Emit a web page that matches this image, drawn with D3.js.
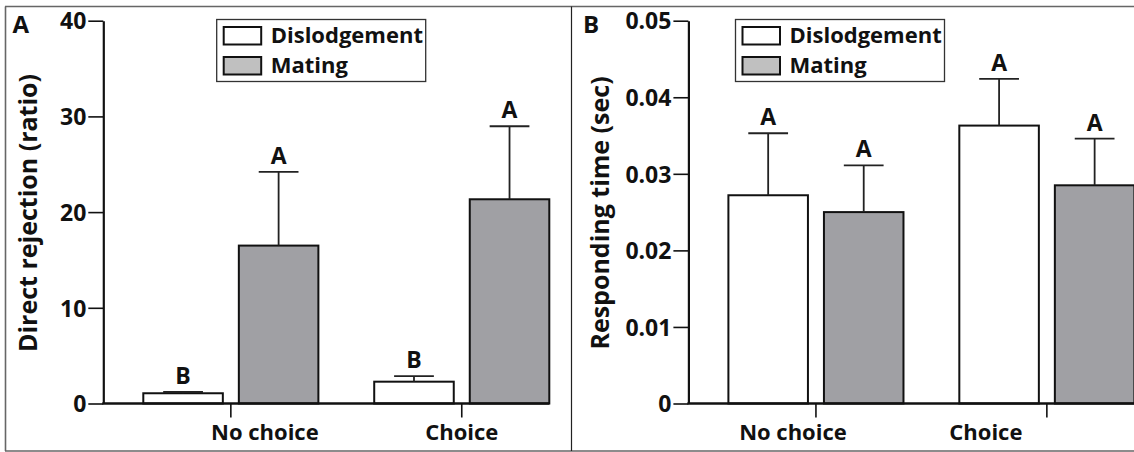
<!DOCTYPE html>
<html>
<head>
<meta charset="utf-8">
<script src="https://cdn.jsdelivr.net/npm/d3@7"></script>
<style>
  html, body { margin: 0; padding: 0; background: #fff; }
  svg { display: block; }
  text { font-family: "Open Sans", "Noto Sans", sans-serif; font-weight: 700; fill: #111; }
</style>
</head>
<body>
<svg id="chart" width="1134" height="452"></svg>
<script>
// Groups and treatments
const categories = ["No choice", "Choice"];
const series = ["Dislodgement", "Mating"];

// Panel A: direct rejection (ratio), mean and upper error per group
const rejDislodgement = [1.07, 2.28];
const rejDislodgementErr = [0.13, 0.59];
const rejMating = [16.5, 21.34];
const rejMatingErr = [7.7, 7.63];
const rejLetters = [["B", "A"], ["B", "A"]];
const rejTicks = [0, 10, 20, 30, 40];
const rejTickLabels = ["0", "10", "20", "30", "40"];

// Panel B: responding time (sec)
const timeDislodgement = [0.0272, 0.0363];
const timeDislodgementErr = [0.0081, 0.0061];
const timeMating = [0.0250, 0.0285];
const timeMatingErr = [0.0061, 0.0061];
const timeLetters = [["A", "A"], ["A", "A"]];
const timeTicks = [0, 0.01, 0.02, 0.03, 0.04, 0.05];
const timeTickLabels = ["0", "0.01", "0.02", "0.03", "0.04", "0.05"];

const fills = { Dislodgement: "#ffffff", Mating: "#a0a0a4" };
const legendFills = { Dislodgement: "#ffffff", Mating: "#c0c0c0" };

const svg = d3.select("#chart");

// Outer frame and panel divider
const frame = svg.append("g").attr("stroke", "#666").attr("stroke-width", 1.6);
frame.append("line").attr("x1", 5).attr("x2", 1134).attr("y1", 6.5).attr("y2", 6.5);
frame.append("line").attr("x1", 5.5).attr("x2", 5.5).attr("y1", 6.5).attr("y2", 451);
frame.append("line").attr("x1", 5).attr("x2", 1134).attr("y1", 451).attr("y2", 451);
svg.append("line").attr("x1", 571.5).attr("x2", 571.5).attr("y1", 6.5).attr("y2", 451)
  .attr("stroke", "#222").attr("stroke-width", 1.2);

function drawPanel(opt) {
  const g = svg.append("g");
  const y = d3.scaleLinear().domain(opt.domain).range([403.5, 20.7]);
  const x0 = d3.scaleBand().domain(categories)
    .range([opt.axisX + 40, opt.axisX + 446]).paddingInner(0.2418).paddingOuter(0);
  const x1 = d3.scaleBand().domain(series)
    .range([0, x0.bandwidth()]).paddingInner(0.1675).paddingOuter(0);

  const rows = [];
  categories.forEach((c, i) => {
    series.forEach((s, j) => {
      const mean = j === 0 ? opt.dis[i] : opt.mat[i];
      const err = j === 0 ? opt.disErr[i] : opt.matErr[i];
      rows.push({ c, s, mean, err, letter: opt.letters[i][j] });
    });
  });

  // Bars
  g.selectAll("rect.bar").data(rows).join("rect")
    .attr("class", "bar")
    .attr("x", d => x0(d.c) + x1(d.s))
    .attr("width", x1.bandwidth())
    .attr("y", d => y(d.mean))
    .attr("height", d => y(0) - y(d.mean))
    .attr("fill", d => fills[d.s])
    .attr("stroke", "#111").attr("stroke-width", 2);

  // Upper error bars
  const eb = g.selectAll("g.err").data(rows).join("g").attr("class", "err")
    .attr("stroke", "#222").attr("stroke-width", 1.8);
  eb.append("line")
    .attr("x1", d => x0(d.c) + x1(d.s) + x1.bandwidth() / 2)
    .attr("x2", d => x0(d.c) + x1(d.s) + x1.bandwidth() / 2)
    .attr("y1", d => y(d.mean)).attr("y2", d => y(d.mean + d.err));
  eb.append("line")
    .attr("x1", d => x0(d.c) + x1(d.s) + x1.bandwidth() / 4)
    .attr("x2", d => x0(d.c) + x1(d.s) + x1.bandwidth() * 3 / 4)
    .attr("y1", d => y(d.mean + d.err)).attr("y2", d => y(d.mean + d.err));

  // Significance letters
  g.selectAll("text.letter").data(rows).join("text")
    .attr("class", "letter")
    .attr("x", d => x0(d.c) + x1(d.s) + x1.bandwidth() / 2)
    .attr("y", d => y(d.mean + d.err) - 8)
    .attr("text-anchor", "middle")
    .attr("font-size", 23)
    .text(d => d.letter);

  // Y axis
  const yAxis = d3.axisLeft(y).tickValues(opt.ticks)
    .tickFormat((d, i) => opt.tickLabels[i]).tickSize(15).tickSizeOuter(0).tickPadding(2);
  const ya = g.append("g").attr("transform", `translate(${opt.axisX},0)`).call(yAxis);
  ya.select(".domain").attr("stroke", "#111").attr("stroke-width", 2.2);
  ya.selectAll(".tick line").attr("stroke", "#111").attr("stroke-width", 1.6);
  ya.selectAll(".tick text").attr("font-size", 23).attr("font-family", null)
    .attr("dy", "0.36em").attr("fill", "#111");

  // X baseline from the y axis to the last bar
  g.append("line").attr("x1", opt.axisX - 1).attr("x2", x0.range()[1])
    .attr("y1", y(0)).attr("y2", y(0)).attr("stroke", "#111").attr("stroke-width", 2.4);

  // Category ticks and labels
  const xAxis = d3.axisBottom(x0).tickSize(14).tickSizeOuter(0);
  const xa = g.append("g").attr("transform", `translate(0,${y(0)})`).call(xAxis);
  xa.select(".domain").remove();
  xa.selectAll(".tick line").attr("stroke", "#111").attr("stroke-width", 1.6);
  xa.selectAll(".tick text").attr("font-size", 22).attr("font-family", null)
    .attr("fill", "#111").attr("y", 36.5).attr("dy", 0)
    .attr("dx", (d, i) => opt.labelShift[i]);

  // Y title
  g.append("text")
    .attr("transform", `translate(${opt.titleX},213) rotate(-90)`)
    .attr("text-anchor", "middle").attr("dy", "0.36em")
    .attr("font-size", 25)
    .text(opt.title);

  // Panel letter
  g.append("text").attr("x", opt.letterX).attr("y", 32.5)
    .attr("font-size", 24).text(opt.panel);

  // Legend
  const lg = g.append("g").attr("transform", `translate(${opt.legendX},19.5)`);
  lg.append("rect").attr("width", 209).attr("height", 62)
    .attr("fill", "#fff").attr("stroke", "#333").attr("stroke-width", 1.3);
  series.forEach((s, i) => {
    lg.append("rect").attr("x", 7).attr("y", 7.5 + i * 30)
      .attr("width", 37.5).attr("height", 17.5)
      .attr("fill", legendFills[s]).attr("stroke", "#111").attr("stroke-width", 2);
    lg.append("text").attr("x", 54).attr("y", 23.5 + i * 30)
      .attr("font-size", 22).text(s);
  });
}

drawPanel({
  panel: "A", letterX: 12.5, axisX: 103.3, domain: [0, 40],
  dis: rejDislodgement, disErr: rejDislodgementErr,
  mat: rejMating, matErr: rejMatingErr, letters: rejLetters,
  ticks: rejTicks, tickLabels: rejTickLabels,
  title: "Direct rejection (ratio)", titleX: 27.5,
  legendX: 216.7, labelShift: [34, 0]
});

drawPanel({
  panel: "B", letterX: 583, axisX: 688.4, domain: [0, 0.05],
  dis: timeDislodgement, disErr: timeDislodgementErr,
  mat: timeMating, matErr: timeMatingErr, letters: timeLetters,
  ticks: timeTicks, tickLabels: timeTickLabels,
  title: "Responding time (sec)", titleX: 599.5,
  legendX: 735.5, labelShift: [-23, -61]
});
</script>
</body>
</html>
